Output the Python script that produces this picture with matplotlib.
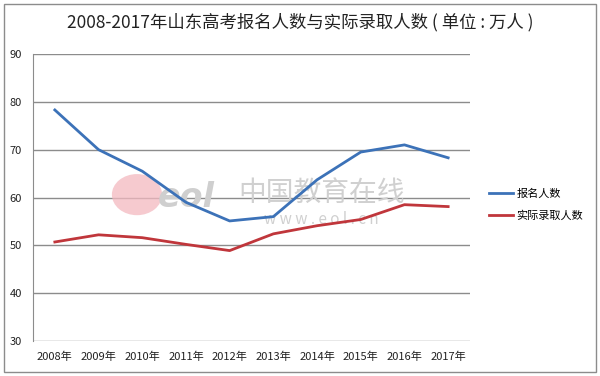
import matplotlib
matplotlib.use("Agg")
import matplotlib.pyplot as plt
from matplotlib.patches import Rectangle, Ellipse

plt.rcParams['font.family'] = ['Noto Sans CJK SC', 'DejaVu Sans']

years = ["2008年", "2009年", "2010年", "2011年", "2012年", "2013年", "2014年", "2015年", "2016年", "2017年"]
applicants = [78.3, 70.0, 65.5, 59.0, 55.1, 56.0, 63.7, 69.5, 71.0, 68.3]
admitted = [50.7, 52.2, 51.6, 50.2, 48.9, 52.4, 54.1, 55.4, 58.5, 58.1]
series_names = ["报名人数", "实际录取人数"]
title = "2008-2017年山东高考报名人数与实际录取人数 ( 单位 : 万人 )"

fig = plt.figure(figsize=(6, 3.76), dpi=100)
fig.patch.set_facecolor("white")
fig.add_artist(Rectangle((4/600, 4/376), 592/600, 368/376, transform=fig.transFigure,
                         fill=False, edgecolor="#8c8c8c", linewidth=1.0))

ax = fig.add_axes([33/600, 1-341/376, (470-33)/600, (341-54)/376])
x = list(range(len(years)))

# watermark
ax.add_patch(Ellipse((1.88, 60.6), 1.15, 8.6, facecolor="#f3b9c0", edgecolor="none", alpha=0.75, zorder=1))
ax.text(3.0, 60.0, "eol", fontsize=24, fontweight="bold", style="italic", color="#cfcfcf",
        ha="center", va="center", zorder=1, family="DejaVu Sans")
ax.text(6.1, 61.0, "中国教育在线", fontsize=20, color="#d0d0d0", ha="center", va="center", zorder=1)
ax.text(6.1, 55.3, "w w w . e o l . c n", fontsize=11, color="#d0d0d0", ha="center", va="center", zorder=1)

ax.plot(x, applicants, color="#3c72b8", linewidth=2.0, label=series_names[0], zorder=3)
ax.plot(x, admitted, color="#c0363b", linewidth=2.0, label=series_names[1], zorder=3)

ax.set_xlim(-0.5, len(years) - 0.5)
ax.set_ylim(30, 90)
ax.set_yticks(range(30, 91, 10))
ax.set_xticks(x)
ax.set_xticklabels(years)
ax.grid(axis="y", color="#8c8c8c", linewidth=1.0)
ax.set_axisbelow(True)
for s in ["top", "right", "bottom"]:
    ax.spines[s].set_visible(False)
ax.spines["left"].set_color("#8c8c8c")
ax.tick_params(axis="both", length=0, labelsize=8, colors="#222222")
ax.tick_params(axis="y", pad=8)
ax.tick_params(axis="x", pad=8)

fig.text(0.5, 1-22/376, title, ha="center", va="center", fontsize=12.5, color="#222222")

leg = ax.legend(loc="center left", bbox_to_anchor=(1.02, 0.474), frameon=False,
                fontsize=8, handlelength=2.2, handletextpad=0.3, labelspacing=1.0)

fig.savefig("out.png", dpi=100)
